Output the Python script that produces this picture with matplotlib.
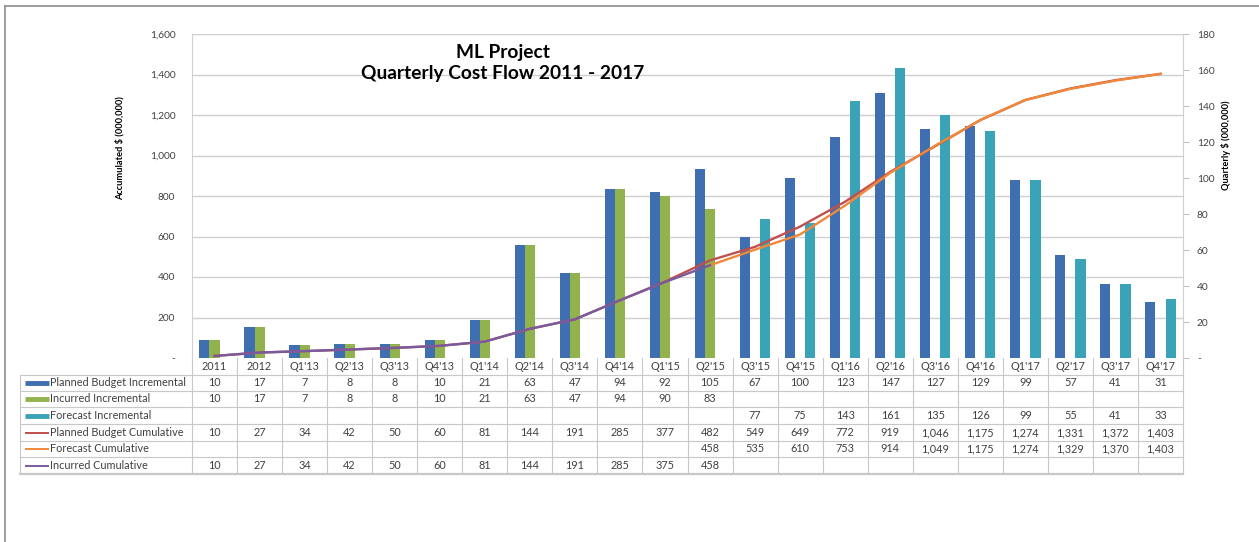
import matplotlib
matplotlib.use('Agg')
import matplotlib.pyplot as plt
from matplotlib import transforms
from matplotlib.lines import Line2D

plt.rcParams['font.family'] = ['Lato', 'DejaVu Sans']

# Data
categories = ["2011", "2012", "Q1'13", "Q2'13", "Q3'13", "Q4'13",
              "Q1'14", "Q2'14", "Q3'14", "Q4'14", "Q1'15", "Q2'15",
              "Q3'15", "Q4'15", "Q1'16", "Q2'16", "Q3'16", "Q4'16",
              "Q1'17", "Q2'17", "Q3'17", "Q4'17"]
planned_inc = [10, 17, 7, 8, 8, 10, 21, 63, 47, 94, 92, 105,
               67, 100, 123, 147, 127, 129, 99, 57, 41, 31]
incurred_inc = [10, 17, 7, 8, 8, 10, 21, 63, 47, 94, 90, 83,
                None, None, None, None, None, None, None, None, None, None]
forecast_inc = [None] * 12 + [77, 75, 143, 161, 135, 126, 99, 55, 41, 33]
planned_cum = [10, 27, 34, 42, 50, 60, 81, 144, 191, 285, 377, 482,
               549, 649, 772, 919, 1046, 1175, 1274, 1331, 1372, 1403]
forecast_cum = [None] * 11 + [458, 535, 610, 753, 914, 1049, 1175, 1274,
                              1329, 1370, 1403]
incurred_cum = [10, 27, 34, 42, 50, 60, 81, 144, 191, 285, 375, 458] + [None] * 10

left_ticks = [0, 200, 400, 600, 800, 1000, 1200, 1400, 1600]
right_ticks = [0, 20, 40, 60, 80, 100, 120, 140, 160, 180]

# Colours (Excel default palette)
c_blue = '#3F6FB0'
c_green = '#92B24E'
c_teal = '#3BA3B8'
c_red = '#C0504D'
c_orange = '#F0883A'
c_purple = '#7A5A9E'
grid_c = '#D0D0D0'
text_c = '#404040'

W, H = 1259, 542
fig = plt.figure(figsize=(W / 100, H / 100), dpi=100)

def fy(px):
    # pixel row -> figure fraction
    return 1 - px / H

ax_l, ax_r, ax_t, ax_b = 192, 1183, 34, 358
ax = fig.add_axes([ax_l / W, fy(ax_b), (ax_r - ax_l) / W, (ax_b - ax_t) / H])
ax2 = ax.twinx()
ax.set_zorder(2)
ax.patch.set_visible(False)

n = len(categories)
xs = list(range(n))

# bars on the quarterly (right) axis
bw = 0.225
def bar_series(vals, offset, color):
    px = [x + offset for x, v in zip(xs, vals) if v is not None]
    pv = [v for v in vals if v is not None]
    ax2.bar(px, pv, width=bw, color=color, zorder=3, linewidth=0)

bar_series(planned_inc, -bw, c_blue)
bar_series(incurred_inc, 0, c_green)
bar_series(forecast_inc, bw, c_teal)

# gridlines from the left axis, drawn behind the bars
ax2.hlines(left_ticks[1:], 0, 1, transform=ax.get_yaxis_transform(),
           color=grid_c, linewidth=1, zorder=0)

# cumulative lines on the accumulated (left) axis
def line_series(vals, color):
    px = [x for x, v in zip(xs, vals) if v is not None]
    pv = [v for v in vals if v is not None]
    ax.plot(px, pv, color=color, linewidth=1.7, zorder=4)

line_series(planned_cum, c_red)
line_series(forecast_cum, c_orange)
line_series(incurred_cum, c_purple)

ax.set_xlim(-0.5, n - 0.5)
ax.set_ylim(0, 1600)
ax2.set_ylim(0, 180)
ax.set_xticks([])
ax2.set_xticks([])

ax.set_yticks(left_ticks)
ax.set_yticklabels(['-' if t == 0 else '{:,}'.format(t) for t in left_ticks])
ax2.set_yticks(right_ticks)
ax2.set_yticklabels(['-' if t == 0 else str(t) for t in right_ticks])
ax.tick_params(axis='y', length=0, pad=12, labelsize=7.3, labelcolor=text_c)
ax2.tick_params(axis='y', length=4, width=0.8, color='#BFBFBF', pad=6,
                labelsize=7.3, labelcolor=text_c)

for a in (ax, ax2):
    for s in a.spines.values():
        s.set_visible(False)
ax.spines['left'].set_visible(True)
ax.spines['left'].set_color(grid_c)
ax2.spines['right'].set_visible(True)
ax2.spines['right'].set_color(grid_c)

fig.text(120 / W, fy(148), 'Accumulated $ (000,000)', rotation=90,
         ha='center', va='center', fontsize=6.7, fontweight='bold')
fig.text(1226 / W, fy(145), 'Quarterly $ (000,000)', rotation=90,
         ha='center', va='center', fontsize=6.7, fontweight='bold')

fig.text(503 / W, fy(63), 'ML Project\nQuarterly Cost Flow 2011 - 2017',
         ha='center', va='center', fontsize=13.8, fontweight='bold',
         linespacing=1.25)

# data table below the plot
tr = transforms.blended_transform_factory(ax.transData, fig.transFigure)
frac_x = lambda px: px / W
tbl_c = '#C8C8C8'
row_edges = [358, 375, 391, 407, 424, 441, 457, 474]
tbl_left = 20
tfs = 7.8

# header row cells
for i, cat in enumerate(categories):
    fig.text(i, fy(366.5), cat, transform=tr, ha='center', va='center',
             fontsize=tfs, color=text_c)

rows = [
    ('Planned Budget Incremental', planned_inc, c_blue, 'bar'),
    ('Incurred Incremental', incurred_inc, c_green, 'bar'),
    ('Forecast Incremental', forecast_inc, c_teal, 'bar'),
    ('Planned Budget Cumulative', planned_cum, c_red, 'line'),
    ('Forecast Cumulative', forecast_cum, c_orange, 'line'),
    ('Incurred Cumulative', incurred_cum, c_purple, 'line'),
]
for r, (label, vals, color, kind) in enumerate(rows):
    yc = fy((row_edges[r + 1] + row_edges[r + 2]) / 2)
    lw = 3.5 if kind == 'bar' else 1.4
    fig.add_artist(Line2D([frac_x(25), frac_x(49)], [yc, yc], color=color,
                          linewidth=lw, solid_capstyle='butt'))
    fig.text(frac_x(50), yc, label, ha='left', va='center', fontsize=tfs,
             color=text_c)
    for i, v in enumerate(vals):
        if v is not None:
            fig.text(i, yc, '{:,}'.format(v), transform=tr, ha='center',
                     va='center', fontsize=tfs, color=text_c)

# table grid lines
for i in range(n + 1):
    fig.add_artist(Line2D([i - 0.5, i - 0.5], [fy(row_edges[0]), fy(row_edges[-1])],
                          transform=tr, color=tbl_c, linewidth=0.8))
for k, yb in enumerate(row_edges[1:]):
    fig.add_artist(Line2D([frac_x(tbl_left), frac_x(ax_r)], [fy(yb), fy(yb)],
                          color=tbl_c, linewidth=0.8 if k < len(row_edges) - 2 else 1.6))
fig.add_artist(Line2D([frac_x(tbl_left), frac_x(tbl_left)],
                      [fy(row_edges[1]), fy(row_edges[-1])],
                      color=tbl_c, linewidth=0.8))

# outer frame of the screenshot
fig.add_artist(Line2D([frac_x(5), 1], [fy(6), fy(6)], color='#8C8C8C', linewidth=1.2))
fig.add_artist(Line2D([frac_x(5), frac_x(5)], [fy(6), 0], color='#8C8C8C', linewidth=1.2))

fig.savefig('out.png', dpi=100)
